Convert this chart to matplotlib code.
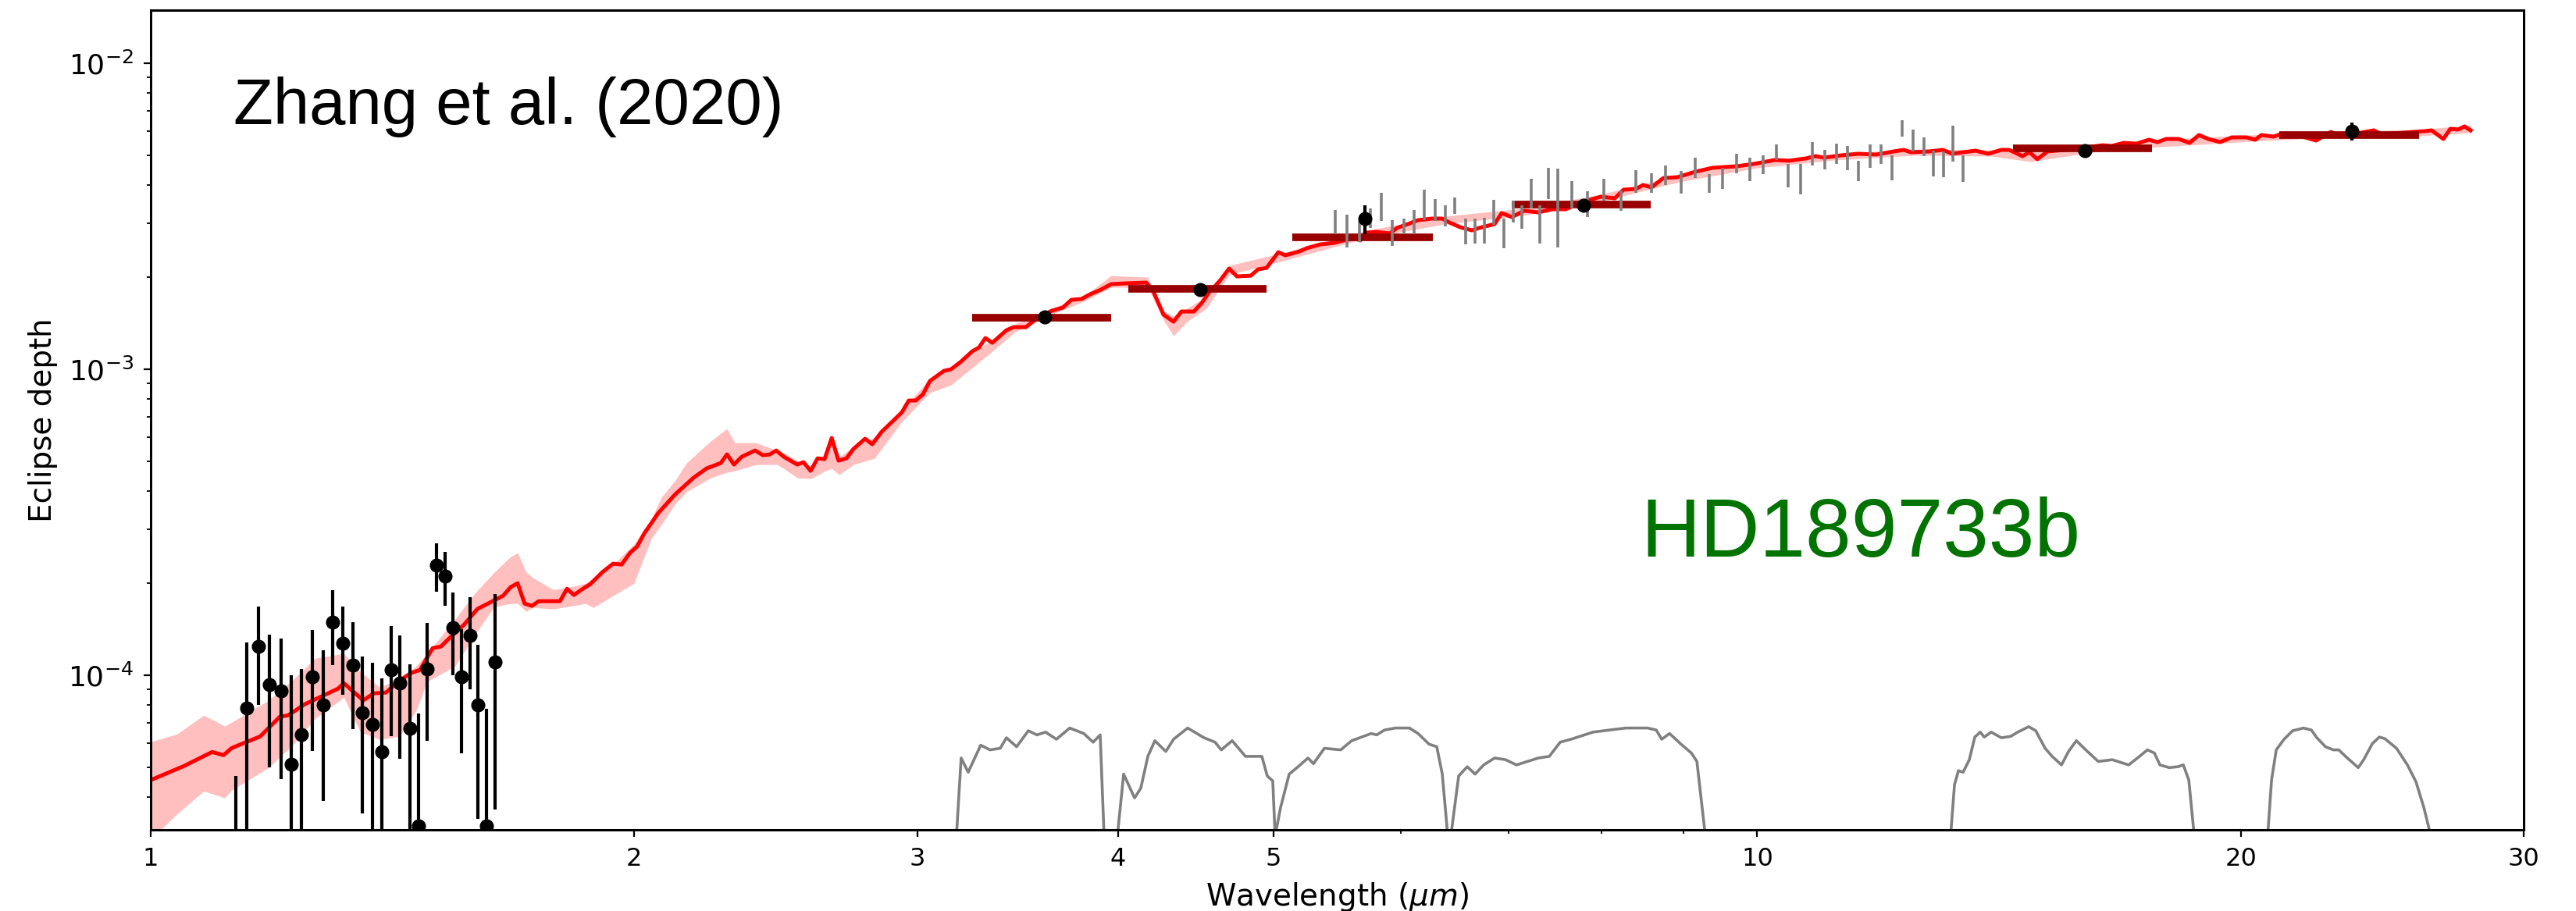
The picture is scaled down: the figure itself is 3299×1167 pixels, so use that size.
"""
plot.py - HD189733b dayside emission spectrum with retrieved model (Zhang et al. 2020).
"""

import numpy as np
import matplotlib.pyplot as plt
from matplotlib.ticker import FixedLocator, NullFormatter

# ── Data (depths in ppm, wavelengths in micron) ─────────────────────────

MODEL_WL = [
    1.000, 1.049, 1.092, 1.110, 1.123, 1.170, 1.203, 1.218, 1.247, 1.308,
    1.319, 1.356, 1.377, 1.401, 1.428, 1.452, 1.471, 1.498, 1.516, 1.535,
    1.567, 1.597, 1.657, 1.675, 1.692, 1.709, 1.727, 1.744, 1.798, 1.816,
    1.834, 1.855, 1.878, 1.910, 1.940, 1.964, 1.988, 2.008, 2.029, 2.070,
    2.121, 2.177, 2.218, 2.264, 2.284, 2.307, 2.333, 2.378, 2.405, 2.429,
    2.451, 2.478, 2.526, 2.549, 2.575, 2.601, 2.627, 2.654, 2.680, 2.711,
    2.738, 2.784, 2.813, 2.851, 2.905, 2.935, 2.964, 2.994, 3.025, 3.055,
    3.117, 3.149, 3.195, 3.246, 3.278, 3.308, 3.341, 3.409, 3.444, 3.506,
    3.550, 3.638, 3.696, 3.742, 3.796, 3.843, 3.904, 3.961, 4.042, 4.166,
    4.208, 4.270, 4.332, 4.381, 4.460, 4.511, 4.556, 4.628, 4.691, 4.744,
    4.840, 4.889, 4.950, 5.034, 5.085, 5.188, 5.241, 5.347, 5.456, 5.555,
    5.623, 5.661, 5.706, 5.796, 5.907, 5.967, 6.061, 6.150, 6.276, 6.368,
    6.432, 6.534, 6.644, 6.711, 6.863, 6.933, 7.034, 7.161, 7.307, 7.456,
    7.599, 7.833, 7.992, 8.155, 8.256, 8.405, 8.490, 8.595, 8.741, 8.919,
    9.151, 9.379, 9.710, 9.951, 10.256, 10.465, 10.725, 10.870, 11.005, 11.279,
    11.560, 11.861, 12.160, 12.338, 12.463, 12.788, 13.048, 13.224, 13.433, 13.676,
    13.923, 14.190, 14.350, 14.626, 14.774, 14.940, 15.159, 15.537, 16.014, 16.413,
    16.616, 16.916, 17.222, 17.533, 17.750, 17.970, 18.295, 18.584, 18.835, 19.090,
    19.413, 19.742, 20.166, 20.416, 20.599, 20.971, 21.160, 21.687, 22.278, 22.757,
    23.039, 23.455, 24.202, 24.474, 25.253, 26.028, 26.291, 26.737, 27.007, 27.311,
    27.556, 27.803,
]
MODEL_PPM = [
    45.5, 50.6, 56.2, 54.9, 57.9, 63.2, 73.2, 74.1, 80.5, 90.5,
    94.3, 82.9, 87.4, 87.9, 96.0, 101.8, 104.2, 122.8, 124.3, 132.6,
    146.5, 164.8, 182.0, 194.2, 200.0, 171.7, 168.7, 174.8, 174.8, 191.9,
    183.1, 190.8, 198.8, 217.2, 231.7, 230.3, 251.5, 263.6, 291.3, 339.4,
    390.7, 442.1, 474.3, 494.2, 527.2, 488.5, 518.0, 542.9, 524.1, 527.2,
    542.9, 518.0, 488.5, 497.2, 466.0, 511.9, 508.9, 596.5, 503.0, 511.9,
    549.3, 593.1, 569.1, 625.1, 686.7, 724.0, 790.8, 790.8, 828.8, 915.6,
    988.3, 1000.0, 1060.5, 1144.7, 1178.8, 1264.8, 1221.0, 1341.3, 1373.2, 1373.2,
    1448.0, 1553.7, 1590.6, 1686.9, 1696.9, 1757.8, 1820.8, 1897.3, 1908.5, 1919.8,
    1799.4, 1509.2, 1431.0, 1544.6, 1544.6, 1647.8, 1778.3, 1942.5, 2133.4, 2011.6,
    2023.5, 2120.9, 2146.0, 2413.5, 2357.5, 2427.7, 2485.5, 2559.5, 2589.8, 2652.7,
    2668.4, 2637.2, 2795.1, 2811.6, 2778.8, 2895.3, 2982.6, 3071.2, 3107.6, 3107.6,
    3017.9, 2912.3, 2844.6, 2895.3, 2982.6, 3237.8, 3143.0, 3295.0, 3257.0, 3334.0,
    3334.0, 3556.8, 3662.9, 3620.1, 3862.0, 3884.8, 4000.4, 3930.6, 4217.0, 4241.9,
    4420.5, 4552.2, 4606.1, 4688.0, 4829.3, 4801.0, 4886.5, 4971.5, 4913.5, 5000.8,
    5059.9, 5030.3, 5149.0, 5210.0, 5119.0, 5149.0, 5210.0, 5060.0, 5119.0, 5180.0,
    5060.0, 5210.0, 5210.0, 4971.5, 5119.0, 4858.0, 5149.0, 5210.0, 5303.0, 5397.0,
    5365.0, 5493.0, 5461.0, 5623.0, 5524.0, 5656.0, 5656.0, 5493.0, 5825.0, 5656.0,
    5524.0, 5724.0, 5724.0, 5623.0, 5825.0, 5757.0, 5860.0, 5825.0, 5590.0, 5965.0,
    5757.0, 5860.0, 6035.0, 5860.0, 5930.0, 6000.0, 6035.0, 5656.0, 6107.0, 6071.0,
    6216.0, 6035.0,
]

# 1-sigma envelope of the retrieved spectra
BAND_WL = [
    1.000, 1.038, 1.079, 1.112, 1.123, 1.184, 1.227, 1.266, 1.319, 1.350,
    1.388, 1.428, 1.463, 1.486, 1.547, 1.591, 1.636, 1.675, 1.692, 1.713,
    1.730, 1.780, 1.816, 1.865, 1.886, 1.951, 1.999, 2.049, 2.079, 2.121,
    2.155, 2.231, 2.284, 2.310, 2.381, 2.454, 2.478, 2.526, 2.577, 2.630,
    2.654, 2.683, 2.738, 2.822, 2.935, 3.055, 3.149, 3.341, 3.452, 3.638,
    3.818, 3.961, 4.175, 4.270, 4.332, 4.416, 4.541, 4.691, 5.107, 5.712,
    6.389, 7.145, 7.992, 8.939, 9.995, 11.179, 12.502, 13.985, 14.790, 16.541,
    18.501, 20.692, 23.142, 25.883, 27.803,
]
BAND_LO_PPM = [
    29.1, 35.2, 41.9, 39.8, 42.2, 50.0, 59.6, 72.4, 84.8, 65.5,
    61.8, 63.2, 76.8, 95.4, 107.3, 135.7, 167.7, 171.7, 171.7, 161.9,
    166.7, 164.8, 167.7, 171.7, 166.7, 185.3, 200.0, 279.6, 310.7, 364.1,
    397.6, 442.1, 460.6, 466.0, 488.5, 488.5, 474.3, 442.1, 439.4, 466.0,
    474.3, 452.6, 488.5, 511.9, 674.7, 838.6, 889.1, 1144.7, 1325.9, 1509.2,
    1677.1, 1852.7, 1852.7, 1448.0, 1287.4, 1431.0, 1581.3, 2035.4, 2289.0, 2682.7,
    2982.6, 3180.9, 3535.9, 4095.4, 4552.2, 4829.3, 5000.8, 4971.5, 4771.4, 5210.0,
    5397.0, 5590.0, 5724.0, 5791.0, 5930.0,
]
BAND_HI_PPM = [
    60.7, 64.3, 74.1, 68.3, 70.3, 82.9, 97.1, 113.8, 117.9, 103.0,
    91.6, 97.1, 107.3, 117.9, 152.7, 185.3, 217.2, 244.2, 251.5, 217.2,
    208.4, 190.8, 193.1, 200.0, 208.4, 237.1, 268.3, 323.8, 381.6, 434.3,
    494.2, 582.7, 640.0, 575.9, 575.9, 542.9, 533.4, 503.0, 479.9, 524.1,
    607.0, 518.0, 559.1, 600.0, 736.9, 932.0, 1017.8, 1250.0, 1406.1, 1581.3,
    1747.2, 2023.5, 2000.0, 1553.7, 1491.6, 1581.3, 1726.8, 2184.0, 2427.7, 2844.6,
    3162.3, 3354.0, 3727.6, 4317.6, 4771.4, 5059.9, 5240.6, 5210.0, 5180.0, 5461.0,
    5690.0, 5860.0, 6000.0, 6071.0, 6289.0,
]

# HST/WFC3 spectroscopic points
WFC3_WL = [
    1.130, 1.148, 1.167, 1.185, 1.205, 1.223, 1.241, 1.261, 1.281, 1.298,
    1.317, 1.336, 1.354, 1.374, 1.393, 1.412, 1.429, 1.450, 1.468, 1.486,
    1.506, 1.525, 1.542, 1.561, 1.581, 1.598, 1.618, 1.638,
]
WFC3_PPM = [
    15.0, 78.1, 124.3, 93.2, 88.9, 51.2, 64.0, 98.8, 80.0, 149.1,
    127.2, 107.9, 75.4, 69.1, 56.2, 104.2, 94.3, 67.1, 32.2, 104.8,
    229.0, 210.9, 143.1, 98.8, 134.9, 80.0, 32.2, 110.5,
]
WFC3_ERR_PPM = [
    32.0, 50.0, 44.0, 43.0, 43.0, 49.0, 41.0, 42.0, 41.0, 41.0,
    40.5, 41.0, 40.0, 41.0, 41.5, 41.0, 41.0, 41.5, 43.0, 43.5,
    41.0, 42.0, 43.0, 43.0, 45.0, 46.0, 45.5, 74.0,
]

# Spitzer/IRS spectrum
IRS_WL = [
    5.462, 5.555, 5.655, 5.744, 5.835, 5.927, 6.027, 6.116, 6.206, 6.304,
    6.396, 6.483, 6.585, 6.674, 6.764, 6.856, 6.956, 7.050, 7.137, 7.234,
    7.324, 7.414, 7.515, 7.668, 7.841, 8.028, 8.228, 8.405, 8.595, 8.770,
    8.969, 9.151, 9.336, 9.515, 9.710, 9.895, 10.085, 10.279, 10.453, 10.641,
    10.822, 11.017, 11.204, 11.381, 11.560, 11.755, 11.941, 12.133, 12.310, 12.502,
    12.703, 12.873, 13.062, 13.239, 13.433,
]
IRS_PPM = [
    3039, 2850, 2829, 3125, 3412, 2800, 2935, 3039, 3467, 3326,
    3182, 3430, 2834, 2841, 2850, 3271, 2797, 3287, 3156, 3773,
    3004, 4075, 3512, 3737, 3480, 3875, 3567, 4123, 4071, 4317,
    4099, 4565, 4058, 4219, 4715, 4517, 4672, 5129, 4310, 4208,
    5079, 4854, 5075, 4919, 4461, 4991, 5059, 4573, 6135, 5610,
    5348, 4724, 4696, 5512, 4548,
]
IRS_ERR_PPM = [
    276, 350, 224, 230, 360, 270, 172, 276, 396, 272,
    252, 211, 274, 266, 275, 306, 311, 270, 278, 420,
    430, 477, 1012, 383, 337, 318, 272, 351, 299, 317,
    349, 348, 286, 334, 345, 397, 329, 300, 379, 480,
    446, 356, 387, 446, 341, 439, 371, 429, 378, 461,
    376, 457, 454, 740, 453,
]

# Spitzer broadband photometry and band-integrated model
PHOT_WL = [3.60, 4.50, 5.70, 7.80, 16.0, 23.45]
PHOT_PPM = [1480, 1820, 3100, 3440, 5180, 6000]
PHOT_ERR_PPM = [40, 50, 330, 70, 60, 395]
BANDAVG_PPM = [1470, 1830, 2700, 3450, 5270, 5820]
BANDAVG_LEFT = [3.246, 4.06, 5.135, 7.03, 14.43, 21.13]
BANDAVG_RIGHT = [3.962, 4.95, 6.28, 8.58, 17.61, 25.82]

# Filter responses (normalised), drawn scaled to FILTER_PEAK_PPM
FILTER_PEAK_PPM = 68.0
F36_WL = [3.1736, 3.1950, 3.2275, 3.2858, 3.3302, 3.3790, 3.4094, 3.4595, 3.5180,
          3.5616, 3.6057, 3.6627, 3.7331, 3.8090, 3.8605, 3.8996, 3.9215]
F36_R = [0.44, 0.79, 0.71, 0.87, 0.84, 0.85, 0.92, 0.86, 0.97,
         0.94, 0.96, 0.91, 0.99, 0.95, 0.89, 0.94, 0.44]
F45_WL = [3.9970, 4.0330, 4.0967, 4.1335, 4.1754, 4.2177, 4.2842, 4.3323, 4.4205,
          4.5258, 4.5975, 4.6387, 4.7118, 4.8023, 4.9164, 4.9550, 4.9940, 5.0108]
F45_R = [0.44, 0.70, 0.585, 0.63, 0.80, 0.90, 0.83, 0.91, 0.99,
         0.92, 0.89, 0.84, 0.90, 0.80, 0.80, 0.69, 0.665, 0.44]
F58_WL = [5.0108, 5.0505, 5.1131, 5.1707, 5.2527, 5.2940, 5.3774, 5.5053, 5.5922, 5.7511,
          5.7959, 5.8612, 5.9537, 6.0745, 6.1503, 6.2474, 6.3176, 6.3675, 6.4177]
F58_R = [0.44, 0.545, 0.70, 0.735, 0.79, 0.757, 0.85, 0.84, 0.90, 0.95,
         0.94, 0.975, 0.99, 0.99, 0.95, 0.877, 0.86, 0.70, 0.44]
F80_WL = [6.4464, 6.5189, 6.5996, 6.6740, 6.7567, 6.8633, 6.9718, 7.0820, 7.1941, 7.3072,
          7.4231, 7.5400, 7.6592, 7.9032, 8.0911, 8.2836, 8.5470, 8.6530, 8.7213, 8.8196,
          8.9587, 9.1000, 9.1717, 9.2838]
F80_R = [0.44, 0.69, 0.74, 0.70, 0.75, 0.79, 0.78, 0.75, 0.77, 0.79,
         0.80, 0.89, 0.91, 0.96, 0.975, 0.99, 0.99, 0.975, 0.91, 0.95,
         0.88, 0.82, 0.77, 0.44]
F16_WL = [13.194, 13.268, 13.343, 13.433, 13.553, 13.660, 13.768, 13.845, 13.985, 14.190,
          14.382, 14.528, 14.757, 14.907, 15.108, 15.261, 15.467, 15.624, 15.800, 16.014,
          16.303, 16.635, 17.030, 17.299, 17.494, 17.671, 17.810, 18.051, 18.275, 18.418,
          18.563, 18.709]
F16_R = [0.44, 0.646, 0.718, 0.71, 0.78, 0.925, 0.96, 0.925, 0.96, 0.92,
         0.93, 0.96, 1.0, 0.97, 0.85, 0.80, 0.75, 0.83, 0.90, 0.84,
         0.77, 0.78, 0.75, 0.80, 0.84, 0.82, 0.75, 0.735, 0.74, 0.75,
         0.67, 0.44]
F24_WL = [20.784, 20.901, 21.042, 21.279, 21.543, 21.883, 22.129, 22.303, 22.580, 22.834,
          23.013, 23.298, 23.666, 23.852, 24.148, 24.392, 24.584, 25.000, 25.395, 25.709,
          25.998, 26.261]
F24_R = [0.44, 0.67, 0.84, 0.91, 0.97, 0.99, 0.975, 0.92, 0.86, 0.84,
         0.84, 0.79, 0.735, 0.78, 0.88, 0.925, 0.914, 0.85, 0.75, 0.66,
         0.545, 0.44]

X_TICKS = [1, 2, 3, 4, 5, 10, 20, 30]
X_MINOR = [6, 7, 8, 9]

PPM = 1e-6


def ppm(values):
    return np.asarray(values, dtype=float) * PPM


def main():
    fig = plt.figure(figsize=(32.99, 11.67), dpi=100)
    ax = fig.add_axes([0.0585, 0.0891, 0.9212, 0.8997])
    ax.set_xscale("log")
    ax.set_yscale("log")

    # retrieved model with envelope
    ax.fill_between(BAND_WL, ppm(BAND_LO_PPM), ppm(BAND_HI_PPM),
                    color="red", alpha=0.25, lw=0, zorder=1)
    ax.plot(MODEL_WL, ppm(MODEL_PPM), color="red", lw=3.6, zorder=2)

    # filter curves along the bottom
    for wl, resp in [(F36_WL, F36_R), (F45_WL, F45_R), (F58_WL, F58_R),
                     (F80_WL, F80_R), (F16_WL, F16_R), (F24_WL, F24_R)]:
        ax.plot(wl, np.asarray(resp) * FILTER_PEAK_PPM * PPM,
                color="gray", lw=2.6, zorder=2)

    # band-averaged model
    ax.hlines(ppm(BANDAVG_PPM), BANDAVG_LEFT, BANDAVG_RIGHT,
              color="#990000", lw=7, zorder=3)

    # IRS spectrum
    ax.errorbar(IRS_WL, ppm(IRS_PPM), yerr=ppm(IRS_ERR_PPM), fmt="none",
                ecolor="gray", elinewidth=2.6, zorder=4)

    # photometry and WFC3
    ax.errorbar(PHOT_WL, ppm(PHOT_PPM), yerr=ppm(PHOT_ERR_PPM), fmt="o",
                color="black", ms=12, elinewidth=3, zorder=5)
    ax.errorbar(WFC3_WL, ppm(WFC3_PPM), yerr=ppm(WFC3_ERR_PPM), fmt="o",
                color="black", ms=12, elinewidth=3, zorder=5)

    ax.set_xlim(1, 30)
    ax.set_ylim(3.13e-5, 1.49e-2)
    ax.set_xticks(X_TICKS)
    ax.set_xticklabels([str(t) for t in X_TICKS])
    ax.xaxis.set_minor_locator(FixedLocator(X_MINOR))
    ax.xaxis.set_minor_formatter(NullFormatter())

    ax.tick_params(which="major", length=6.5, width=1.6, labelsize=23, pad=9)
    ax.tick_params(axis="y", which="major", labelsize=26)
    ax.tick_params(which="minor", length=3.5, width=1.3)
    for sp in ax.spines.values():
        sp.set_linewidth(2.2)

    ax.set_xlabel(r"Wavelength ($\mu m$)", fontsize=28)
    ax.set_ylabel("Eclipse depth", fontsize=28)
    ax.xaxis.set_label_coords(0.5, -0.062)
    ax.yaxis.set_label_coords(-0.039, 0.5)

    ax.text(0.0349, 0.861, "Zhang et al. (2020)", transform=ax.transAxes,
            fontsize=60, family="Liberation Sans", ha="left", va="baseline")
    ax.text(0.628, 0.333, "HD189733b", transform=ax.transAxes,
            fontsize=76, family="Liberation Sans", color="#007300",
            ha="left", va="baseline")

    fig.savefig("out.png", dpi=100)
    plt.close(fig)


if __name__ == "__main__":
    main()
